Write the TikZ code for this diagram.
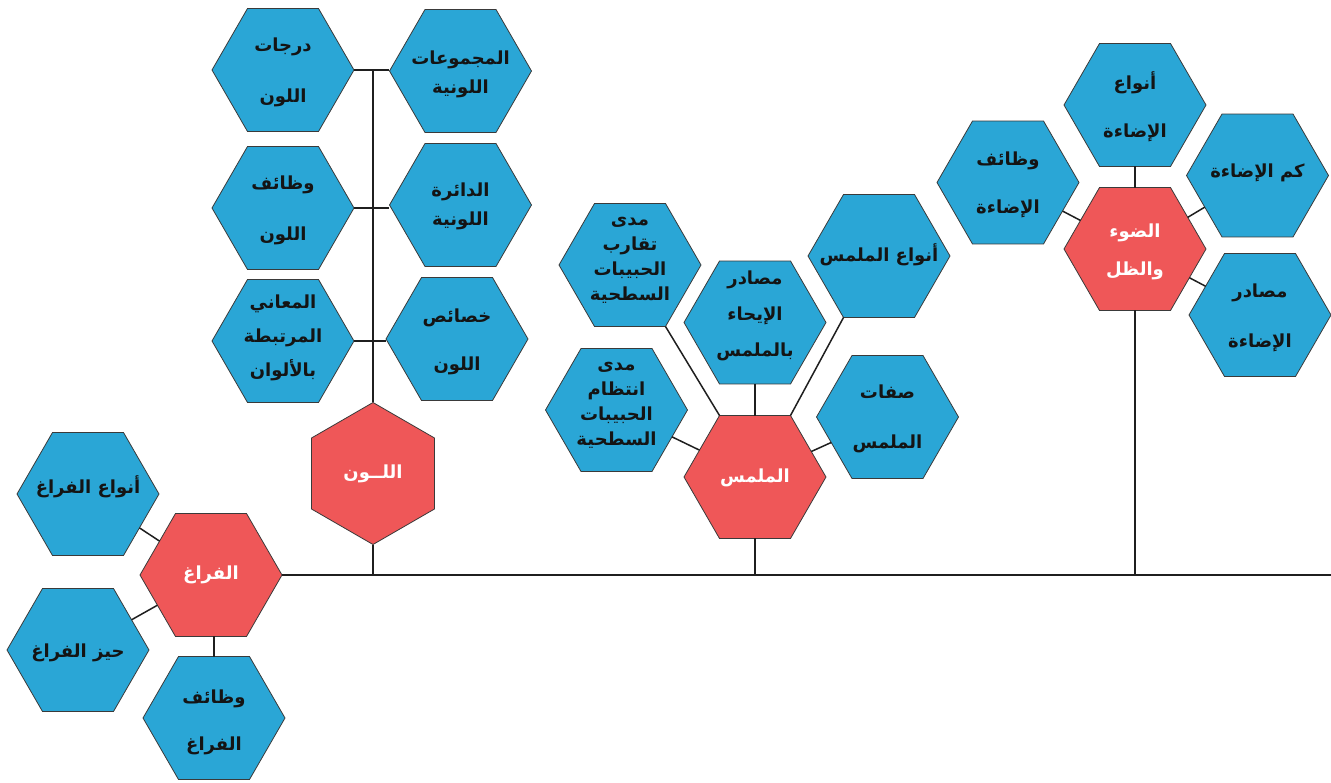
\documentclass[tikz,border=0pt]{standalone}
\usepackage{fontspec}
\usetikzlibrary{shapes.geometric,calc}
\newfontfamily\arabicfont[Script=Arabic]{DejaVu Sans}
\TeXXeTstate=1
\newcommand\ar[1]{\beginR #1\endR}
\definecolor{hexblue}{HTML}{2AA6D6}
\definecolor{hexred}{HTML}{EF5758}
\definecolor{edgegray}{HTML}{3A3A3A}
\tikzset{
  hexbase/.style={regular polygon, regular polygon sides=6, minimum size=142pt,
    inner sep=0pt, outer sep=0pt, draw=edgegray, line width=0.8pt},
  hexb/.style={hexbase, fill=hexblue},
  hexr/.style={hexbase, fill=hexred},
  lbl/.style={align=center, inner sep=0pt, text=black!92,
    font=\arabicfont\bfseries\fontsize{18}{#1}\selectfont},
  lbl/.default=28,
  lblw/.style={lbl=#1, text=white},
  lblw/.default=38,
  conn/.style={line width=1.5pt, draw=black!88},
}
\begin{document}
\begin{tikzpicture}[x=1pt,y=-1pt]
\useasboundingbox (0,0) rectangle (1331,783);
% ---- colour group
\node[hexb] (b1) at (283,70) {};
\node[lbl=51] (b1t) at (283,72) {\ar{درجات}\\\ar{اللون}};
\node[hexb] (b2) at (460.5,71) {};
\node[lbl=29] (b2t) at (460.5,74) {\ar{المجموعات}\\\ar{اللونية}};
\node[hexb] (b3) at (283,208) {};
\node[lbl=51] (b3t) at (283,210) {\ar{وظائف}\\\ar{اللون}};
\node[hexb] (b4) at (460.5,205) {};
\node[lbl=29] (b4t) at (460.5,206) {\ar{الدائرة}\\\ar{اللونية}};
\node[hexb] (b5) at (283,341) {};
\node[lbl=34] (b5t) at (283,338) {\ar{المعاني}\\\ar{المرتبطة}\\\ar{بالألوان}};
\node[hexb] (b6) at (457,339) {};
\node[lbl=48] (b6t) at (457,342) {\ar{خصائص}\\\ar{اللون}};
\node[hexr, shape border rotate=30] (r1) at (373,473.5) {};
\node[lblw] (r1t) at (373,473.5) {\ar{اللــون}};
% ---- space group
\node[hexb] (b7) at (88,494) {};
\node[lbl] (b7t) at (88,487) {\ar{أنواع الفراغ}};
\node[hexr] (r2) at (211,575) {};
\node[lblw] (r2t) at (211,575) {\ar{الفراغ}};
\node[hexb] (b8) at (78,650) {};
\node[lbl] (b8t) at (78,653) {\ar{حيز الفراغ}};
\node[hexb] (b9) at (214,718) {};
\node[lbl=47] (b9t) at (214,722) {\ar{وظائف}\\\ar{الفراغ}};
% ---- texture group
\node[hexb] (b10) at (630,265) {};
\node[lbl=25] (b10t) at (630,260) {\ar{مدى}\\\ar{تقارب}\\\ar{الحبيبات}\\\ar{السطحية}};
\node[hexb] (b11) at (616.5,410) {};
\node[lbl=25] (b11t) at (616.5,405) {\ar{مدى}\\\ar{انتظام}\\\ar{الحبيبات}\\\ar{السطحية}};
\node[hexb] (b12) at (755,322.5) {};
\node[lbl=36] (b12t) at (755,316) {\ar{مصادر}\\\ar{الإيحاء}\\\ar{بالملمس}};
\node[hexb] (b13) at (879,256) {};
\node[lbl] (b13t) at (879,255) {\ar{أنواع الملمس}};
\node[hexb] (b14) at (887.5,417) {};
\node[lbl=50] (b14t) at (887.5,419) {\ar{صفات}\\\ar{الملمس}};
\node[hexr] (r3) at (755,477) {};
\node[lblw] (r3t) at (755,478) {\ar{الملمس}};
% ---- light group
\node[hexb] (b15) at (1135,105) {};
\node[lbl=48] (b15t) at (1135,107) {\ar{أنواع}\\\ar{الإضاءة}};
\node[hexb] (b16) at (1008,182.5) {};
\node[lbl=48] (b16t) at (1008,185) {\ar{وظائف}\\\ar{الإضاءة}};
\node[hexb] (b17) at (1257.5,175.5) {};
\node[lbl] (b17t) at (1257.5,173) {\ar{كم الإضاءة}};
\node[hexr] (r4) at (1135,249) {};
\node[lblw=38] (r4t) at (1135,252) {\ar{الضوء}\\\ar{والظل}};
\node[hexb] (b18) at (1260,315) {};
\node[lbl=50] (b18t) at (1260,318) {\ar{مصادر}\\\ar{الإضاءة}};
% ---- connectors
\coordinate (lineend) at (1331,575);
\draw[conn] (r2.east) -- (lineend);
\draw[conn] (r1.south) -- (r1.south |- lineend);
\draw[conn] (r3.south) -- (r3.south |- lineend);
\draw[conn] (r4.south) -- (r4.south |- lineend);
\draw[conn] (b1.east -| r1.north) -- (r1.north);
\draw[conn] (b1.east) -- (b1.east -| b2.west);
\draw[conn] (b3.east) -- (b3.east -| b4.west);
\draw[conn] (b5.east) -- (b5.east -| b6.west);
\draw[conn] (r2) -- (b7);
\draw[conn] (r2) -- (b8);
\draw[conn] (r2.south -| b9.north) -- (b9.north);
\draw[conn] ($(b10.center)+(35.5,61.5)$) -- ($(r3.center)+(-35.5,-61.5)$);
\draw[conn] ($(b13.center)+(-35.5,61.5)$) -- ($(r3.center)+(35.5,-61.5)$);
\draw[conn] (b12.south) -- (b12.south |- r3.north);
\draw[conn] (r3) -- (b11);
\draw[conn] (r3) -- (b14);
\draw[conn] (r4.north) -- (r4.north |- b15.south);
\draw[conn] (r4) -- (b16);
\draw[conn] (r4) -- (b17);
\draw[conn] (r4) -- (b18);
\end{tikzpicture}
\end{document}
